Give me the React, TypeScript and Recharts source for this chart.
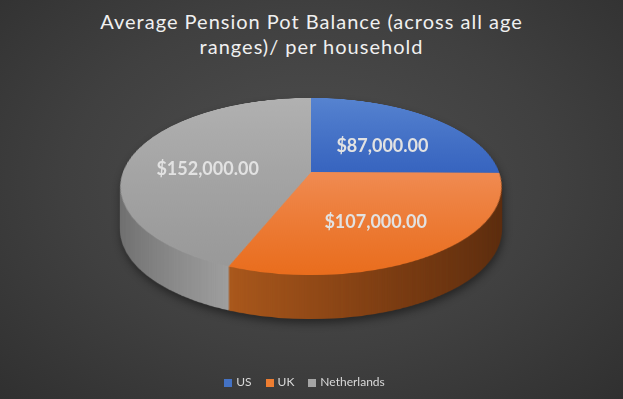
import React from "react";
import { Cell, Legend, Pie, PieChart } from "recharts";

const CATEGORIES = ["US", "UK", "Netherlands"];
const VALUES = [87000, 107000, 152000];
const LEGEND_COLORS = ["#4472C4", "#ED7D31", "#A5A5A5"];
const TOP_FILLS = ["url(#topUS)", "url(#topUK)", "url(#topNL)"];
const SIDE_FILLS = ["#2c4f8f", "url(#sideUK)", "url(#sideNL)"];

const W = 623;
const H = 399;
const FONT = "Lato, 'Open Sans', sans-serif";

// 3D look: the flat pie is tilted with a css perspective transform
const RADIUS = 188;
const TILT = 62.7;
const PERSP = 1019;
const DEPTH = 44;
const CENTER_X = 311;
const CENTER_Y = 172;
const BOX = 2 * RADIUS + 4;
const RAD = Math.PI / 180;

const data = CATEGORIES.map((name, i) => ({ name, value: VALUES[i] }));

const formatMoney = (v: number): string =>
  `$${v.toLocaleString("en-US", { minimumFractionDigits: 2, maximumFractionDigits: 2 })}`;

function project(px: number, py: number): [number, number] {
  const z = py * Math.sin(TILT * RAD);
  const f = PERSP / (PERSP - z);
  return [px * f, py * Math.cos(TILT * RAD) * f];
}

const renderLabel = (props: any) => {
  const { cx = 0, cy = 0, midAngle = 0, outerRadius = 0, value = 0 } = props;
  const r = outerRadius * 0.57;
  const [sx, sy] = project(r * Math.cos(-midAngle * RAD), r * Math.sin(-midAngle * RAD));
  return (
    <text
      x={cx + sx}
      y={cy + sy + 5}
      fill="#e2e2e2"
      textAnchor="middle"
      dominantBaseline="central"
      fontFamily={FONT}
      fontWeight={700}
      fontSize={18}
    >
      {formatMoney(Number(value))}
    </text>
  );
};

function Gradients() {
  return (
    <svg width={0} height={0} style={{ position: "absolute" }}>
      <defs>
        <linearGradient id="topUS" x1="0" y1="0" x2="0" y2="1">
          <stop offset="0%" stopColor="#5683d0" />
          <stop offset="100%" stopColor="#3764bf" />
        </linearGradient>
        <linearGradient id="topUK" x1="0" y1="0" x2="0" y2="1">
          <stop offset="0%" stopColor="#f08b52" />
          <stop offset="100%" stopColor="#e96d1d" />
        </linearGradient>
        <linearGradient id="topNL" x1="0" y1="0" x2="0" y2="1">
          <stop offset="0%" stopColor="#b1b1b1" />
          <stop offset="100%" stopColor="#999999" />
        </linearGradient>
        <linearGradient id="sideUK" x1="0" y1="0" x2="1" y2="0">
          <stop offset="0%" stopColor="#a9571b" />
          <stop offset="55%" stopColor="#7a3b11" />
          <stop offset="100%" stopColor="#592a0c" />
        </linearGradient>
        <linearGradient id="sideNL" x1="0" y1="0" x2="1" y2="0">
          <stop offset="0%" stopColor="#6c6c6c" />
          <stop offset="62%" stopColor="#9d9d9d" />
          <stop offset="100%" stopColor="#9d9d9d" />
        </linearGradient>
      </defs>
    </svg>
  );
}

function Disc({ fills, offset }: { fills: string[]; offset: number }) {
  return (
    <div
      style={{
        position: "absolute",
        left: CENTER_X - BOX / 2,
        top: CENTER_Y - BOX / 2,
        width: BOX,
        height: BOX,
        transformOrigin: "50% 50%",
        transform: `translateY(${offset}px) perspective(${PERSP}px) rotateX(${TILT}deg)`,
      }}
    >
      <PieChart width={BOX} height={BOX} margin={{ top: 0, right: 0, bottom: 0, left: 0 }}>
        <Pie
          data={data}
          dataKey="value"
          nameKey="name"
          cx={BOX / 2}
          cy={BOX / 2}
          outerRadius={RADIUS}
          startAngle={90}
          endAngle={-270}
          stroke="none"
          isAnimationActive={false}
        >
          {data.map((entry, i) => (
            <Cell key={entry.name} fill={fills[i]} stroke="none" />
          ))}
        </Pie>
      </PieChart>
    </div>
  );
}

export default function App() {
  const layers: number[] = [];
  for (let k = DEPTH; k >= 1; k--) layers.push(k);

  return (
    <div
      style={{
        position: "absolute",
        left: 0,
        top: 0,
        width: W,
        height: H,
        overflow: "hidden",
        background: "radial-gradient(ellipse at 50% 45%, #4f4f4f 0%, #404040 55%, #303030 100%)",
        fontFamily: FONT,
      }}
    >
      <Gradients />
      <div
        style={{
          position: "absolute",
          top: 9,
          left: 0,
          width: W,
          textAlign: "center",
          color: "#f0f0f0",
          fontSize: 20,
          lineHeight: "25px",
          letterSpacing: 1,
        }}
      >
        Average Pension Pot Balance (across all age
        <br />
        ranges)/ per household
      </div>
      <div style={{ position: "absolute", inset: 0, filter: "drop-shadow(1px 4px 4px rgba(0,0,0,0.45))" }}>
        {layers.map((k) => (
          <Disc key={k} fills={SIDE_FILLS} offset={k} />
        ))}
      </div>
      <Disc fills={TOP_FILLS} offset={0} />
      <div style={{ position: "absolute", left: 0, top: 0 }}>
        <PieChart width={W} height={H} margin={{ top: 0, right: 0, bottom: 0, left: 0 }}>
          <Pie
            data={data}
            dataKey="value"
            nameKey="name"
            cx={CENTER_X}
            cy={CENTER_Y}
            outerRadius={RADIUS}
            startAngle={90}
            endAngle={-270}
            fillOpacity={0}
            stroke="none"
            label={renderLabel}
            labelLine={false}
            isAnimationActive={false}
          >
            {data.map((entry, i) => (
              <Cell key={entry.name} fill={LEGEND_COLORS[i]} stroke="none" />
            ))}
          </Pie>
          <Legend
            verticalAlign="bottom"
            align="center"
            iconType="square"
            iconSize={8}
            itemSorter={(item: any) => CATEGORIES.indexOf(item.value)}
            wrapperStyle={{ bottom: 10, fontSize: 12 }}
            formatter={(v: string) => <span style={{ color: "#d9d9d9", marginRight: 4 }}>{v}</span>}
          />
        </PieChart>
      </div>
    </div>
  );
}
